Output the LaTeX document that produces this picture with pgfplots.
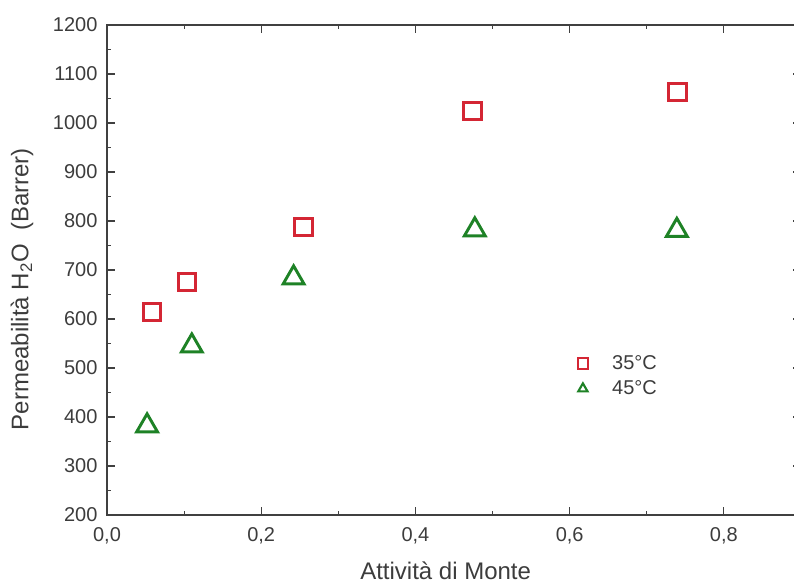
\documentclass[border=0pt]{standalone}
\usepackage{fontspec}
\setmainfont{Liberation Sans}
\usepackage{pgfplots}
\pgfplotsset{compat=1.18}
\usetikzlibrary{calc}
\definecolor{mred}{RGB}{212,38,52}
\definecolor{mgreen}{RGB}{30,130,38}
\definecolor{txt}{RGB}{60,60,60}

\begin{document}
\fontsize{15}{18}\selectfont
\begin{tikzpicture}
\begin{axis}[
    name=ax,
    scale only axis,
    width=520.5pt, height=367.5pt,
    xmin=0, xmax=0.9,
    ymin=200, ymax=1200,
    xtick={0,0.2,0.4,0.6,0.8},
    ytick={200,300,...,1200},
    minor x tick num=1,
    minor y tick num=1,
    tick align=inside,
    major tick length=6pt,
    minor tick length=3pt,
    axis line style={line width=1pt, black!75},
    every tick/.style={black!75, line width=0.8pt},
    xticklabel style={yshift=-4pt, /pgf/number format/.cd, use comma, fixed, fixed zerofill, precision=1},
    yticklabel style={xshift=-2pt, /pgf/number format/.cd, fixed, 1000 sep={}},
    /pgf/number format/assume math mode=true,
    tick label style={font=\fontsize{15}{18}\selectfont, text=txt},
    xlabel={Attività di Monte},
    ylabel={Permeabilità H\textsubscript{2}O~~(Barrer)},
    label style={font=\fontsize{18}{21}\selectfont, text=txt},
    xlabel style={at={(axis description cs:0.488,-0.114)}, anchor=center},
    ylabel style={at={(axis description cs:-0.1225,0.461)}, anchor=center},
    legend style={draw=none, fill=none, at={(axis cs:0.607,532)}, anchor=north west,
        font=\fontsize{15}{18}\selectfont, text=txt, row sep=2pt, inner sep=0pt},
    legend cell align=left,
    legend image code/.code={
        \path[draw=none, fill=none] (-0.2cm,0cm) -- (0.7cm,0cm);
        \draw[#1, mark size=4pt, line width=1.6pt] plot coordinates {(0cm,0cm)};},
]
\addplot[only marks, mark=square, mark size=6.5pt, line width=2.2pt, mred]
    coordinates {(0.058,614) (0.104,676) (0.255,788) (0.474,1025) (0.740,1063)};
\addlegendentry{35°C}
\addplot[only marks, mark=triangle, mark size=9pt, line width=2.2pt, mgreen]
    coordinates {(0.052,382) (0.110,545) (0.242,684) (0.477,782) (0.739,781)};
\addlegendentry{45°C}
\end{axis}
\pgfresetboundingbox
\path ($(ax.south west)+(-80.25pt,-51pt)$) rectangle ($(ax.north west)+(515.25pt,18.75pt)$);
\end{tikzpicture}
\end{document}
